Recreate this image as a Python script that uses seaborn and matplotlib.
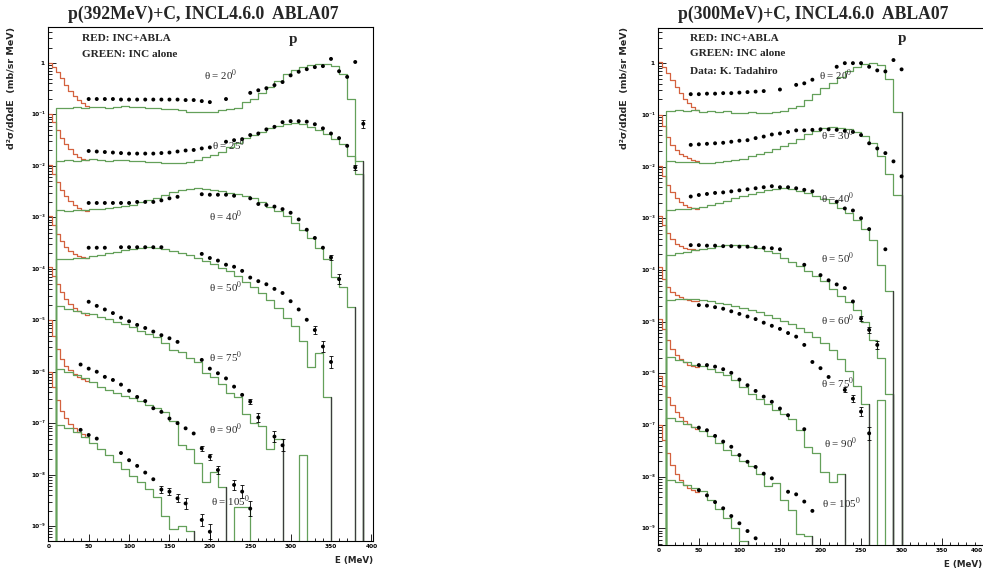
import numpy as np
import matplotlib
matplotlib.use("Agg")
import matplotlib.pyplot as plt
from matplotlib.ticker import FixedLocator, FuncFormatter, LogLocator, NullFormatter, MultipleLocator
import seaborn as sns

# ---------------------------------------------------------------------------
# Proton double-differential spectra, log10 of d2sigma/dOmega dE (mb/sr MeV),
# each angle shifted down by one more decade for display.
# Green: INC alone, 10 MeV bins from 0 to 400 MeV (None = empty bin).
# Red:   INC+ABLA, 5 MeV bins from 0 to 50 MeV (evaporation part).
# ---------------------------------------------------------------------------
GREEN_EDGES = np.arange(0, 410, 10)
RED_EDGES = np.arange(0, 55, 5)

# ----- p(392 MeV) + C -------------------------------------------------------
angles392 = [20, 25, 40, 50, 75, 90, 105]

r392_20 = [0.00, -0.08, -0.18, -0.30, -0.42, -0.54, -0.64, -0.72, -0.78, -0.83]
r392_25 = [-1.00, -1.15, -1.30, -1.45, -1.58, -1.68, -1.76, -1.82, -1.86, -1.88]
r392_40 = [-1.98, -2.15, -2.32, -2.47, -2.58, -2.68, -2.76, -2.81, -2.85, -2.87]
r392_50 = [-2.97, -3.15, -3.32, -3.46, -3.57, -3.65, -3.71, -3.75, -3.77, -3.78]
r392_75 = [-3.97, -4.13, -4.30, -4.46, -4.58, -4.68, -4.76, -4.82, -4.86, -4.89]
r392_90 = [-5.00, -5.30, -5.55, -5.75, -5.88, -5.97, -6.05, -6.10, -6.15, -6.18]
r392_105 = [-6.00, -6.29, -6.55, -6.76, -6.90, -7.02, -7.10, -7.17, -7.22, -7.27]

g392_20 = [None, -0.88, -0.87, -0.86, -0.88, -0.86, -0.85, -0.87, -0.85, -0.84,
           -0.86, -0.85, -0.88, -0.87, -0.89, -0.90, -0.92, -0.95, -0.96, -0.95,
           -0.95, -0.91, -0.90, -0.88, -0.76, -0.70, -0.58, -0.47, -0.35, -0.22,
           -0.13, -0.07, -0.03, -0.01, -0.01, -0.05, -0.22, -0.70, -1.90, None]
g392_25 = [None, -1.90, -1.88, -1.90, -1.89, -1.87, -1.88, -1.90, -1.89, -1.88,
           -1.91, -1.90, -1.93, -1.92, -1.94, -1.95, -1.95, -1.93, -1.88, -1.82,
           -1.78, -1.72, -1.63, -1.55, -1.45, -1.39, -1.34, -1.26, -1.22, -1.18,
           -1.17, -1.18, -1.24, -1.30, -1.37, -1.47, -1.58, -1.80, -2.15, None]
g392_40 = [None, -2.86, -2.87, -2.85, -2.86, -2.84, -2.83, -2.82, -2.80, -2.78,
           -2.75, -2.71, -2.67, -2.62, -2.56, -2.50, -2.46, -2.44, -2.43, -2.44,
           -2.47, -2.49, -2.52, -2.55, -2.58, -2.63, -2.70, -2.79, -2.88, -2.98,
           -3.10, -3.24, -3.40, -3.60, -3.80, -4.15, -4.35, -4.75, None, None]
g392_50 = [None, -3.81, -3.80, -3.79, -3.78, -3.75, -3.73, -3.70, -3.67, -3.64,
           -3.61, -3.59, -3.58, -3.59, -3.61, -3.65, -3.69, -3.74, -3.79, -3.85,
           -3.91, -3.98, -4.05, -4.14, -4.25, -4.36, -4.47, -4.60, -4.76, -4.95,
           -5.12, -5.40, -5.90, -5.64, -6.50, None, None, None, None, None]
g392_75 = [None, -4.72, -4.78, -4.82, -4.85, -4.88, -4.93, -4.98, -5.03, -5.08,
           -5.14, -5.20, -5.26, -5.33, -5.45, -5.58, -5.62, -5.74, -5.82, -6.02,
           -6.10, -6.24, -6.42, -6.50, -6.82, -7.00, -7.05, -7.50, -7.30, None,
           None, -7.62, None, None, None, None, None, None, None, None]
g392_90 = [None, -5.94, -6.00, -6.06, -6.12, -6.20, -6.30, -6.36, -6.42, -6.47,
           -6.52, -6.57, -6.64, -6.70, -6.78, -6.95, -7.43, -7.50, -7.78, -8.14,
           -7.95, -8.25, None, -8.63, -8.63, None, None, None, None, None,
           None, None, None, None, None, None, None, None, None, None]
g392_105 = [None, -7.04, -7.10, -7.18, -7.27, -7.38, -7.50, -7.62, -7.76, -7.90,
            -8.02, -8.15, -8.28, -8.43, -8.80, -9.05, -9.00, -9.10, None, None,
            None, None, None, None, None, None, None, None, None, None,
            None, None, None, None, None, None, None, None, None, None]

# measured points: energy (MeV) and log10 value
d392_20_E = [50, 60, 70, 80, 90, 100, 110, 120, 130, 140, 150, 160, 170, 180, 190, 200,
             220, 250, 260, 270, 280, 290, 300, 310, 320, 330, 340, 350, 360, 370, 380, 390]
d392_20_L = [-0.70, -0.70, -0.70, -0.70, -0.71, -0.71, -0.71, -0.71, -0.71, -0.71, -0.71,
             -0.71, -0.72, -0.72, -0.74, -0.76, -0.70, -0.58, -0.53, -0.49, -0.43, -0.37,
             -0.24, -0.17, -0.12, -0.08, -0.06, 0.08, -0.16, -0.27, 0.02, -1.18]
d392_25_E = [50, 60, 70, 80, 90, 100, 110, 120, 130, 140, 150, 160, 170, 180, 190, 200,
             220, 230, 240, 250, 260, 270, 280, 290, 300, 310, 320, 330, 340, 350, 360, 370, 380]
d392_25_L = [-1.71, -1.72, -1.73, -1.74, -1.75, -1.76, -1.76, -1.76, -1.76, -1.75, -1.74,
             -1.72, -1.70, -1.69, -1.66, -1.64, -1.53, -1.50, -1.48, -1.40, -1.37, -1.29,
             -1.24, -1.15, -1.13, -1.13, -1.14, -1.19, -1.27, -1.37, -1.46, -1.61, -2.03]
d392_40_E = [50, 60, 70, 80, 90, 100, 110, 120, 130, 140, 150, 160, 190, 200, 210, 220, 230,
             250, 260, 270, 280, 290, 300, 310, 320, 330, 340, 350, 360]
d392_40_L = [-2.72, -2.72, -2.72, -2.72, -2.72, -2.72, -2.70, -2.70, -2.70, -2.67, -2.63,
             -2.60, -2.55, -2.56, -2.56, -2.56, -2.58, -2.63, -2.74, -2.76, -2.79, -2.84,
             -2.91, -3.04, -3.24, -3.40, -3.59, -3.78, -4.20]
d392_50_E = [50, 60, 70, 90, 100, 110, 120, 130, 140, 190, 200, 210, 220, 230, 240, 250,
             260, 270, 280, 290, 300, 310, 320, 330, 340, 350]
d392_50_L = [-3.59, -3.59, -3.59, -3.58, -3.58, -3.58, -3.58, -3.58, -3.58, -3.71, -3.79,
             -3.84, -3.92, -3.96, -4.04, -4.17, -4.24, -4.30, -4.39, -4.47, -4.63, -4.79,
             -4.99, -5.19, -5.51, -5.81]
d392_75_E = [50, 60, 70, 80, 90, 100, 110, 120, 130, 140, 150, 160, 190, 200, 210, 220,
             230, 240, 250, 260, 280, 290]
d392_75_L = [-4.64, -4.72, -4.79, -4.86, -4.95, -5.02, -5.09, -5.15, -5.22, -5.29, -5.35,
             -5.42, -5.77, -5.94, -6.03, -6.13, -6.29, -6.45, -6.58, -6.89, -7.26, -7.43]
d392_90_E = [40, 50, 60, 70, 80, 90, 100, 110, 120, 130, 140, 150, 160, 170, 180, 190,
             200, 210, 230, 240, 250]
d392_90_L = [-5.86, -5.94, -6.00, -6.10, -6.16, -6.25, -6.37, -6.49, -6.57, -6.71, -6.78,
             -6.91, -7.00, -7.10, -7.20, -7.49, -7.65, -7.91, -8.20, -8.33, -8.66]
d392_105_E = [40, 50, 60, 90, 100, 110, 120, 130, 140, 150, 160, 170, 190, 200]
d392_105_L = [-7.13, -7.23, -7.30, -7.58, -7.72, -7.83, -7.96, -8.09, -8.29, -8.33,
              -8.46, -8.56, -8.88, -9.11]

# statistical errors (half-width in decades) keyed by energy
err392_20 = {390: 0.08}
err392_25 = {380: 0.05}
err392_40 = {350: 0.05, 360: 0.10}
err392_50 = {330: 0.08, 340: 0.10, 350: 0.12}
err392_75 = {250: 0.05, 260: 0.08, 280: 0.10, 290: 0.12}
err392_90 = {190: 0.05, 200: 0.06, 210: 0.08, 230: 0.10, 240: 0.12, 250: 0.15}
err392_105 = {140: 0.06, 150: 0.07, 160: 0.08, 170: 0.10, 190: 0.12, 200: 0.15}

# ----- p(300 MeV) + C -------------------------------------------------------
angles300 = [20, 30, 40, 50, 60, 75, 90, 105]

r300_20 = [0.02, -0.08, -0.20, -0.33, -0.46, -0.58, -0.69, -0.78, -0.85, -0.90]
r300_30 = [-1.00, -1.22, -1.42, -1.58, -1.68, -1.75, -1.80, -1.84, -1.87, -1.89]
r300_40 = [-1.98, -2.18, -2.36, -2.50, -2.61, -2.69, -2.75, -2.79, -2.81, -2.83]
r300_50 = [-2.95, -3.14, -3.28, -3.40, -3.49, -3.54, -3.57, -3.59, -3.60, -3.61]
r300_60 = [-3.95, -4.18, -4.33, -4.43, -4.49, -4.53, -4.56, -4.58, -4.60, -4.61]
r300_75 = [-4.95, -5.15, -5.35, -5.52, -5.64, -5.73, -5.79, -5.83, -5.86, -5.88]
r300_90 = [-6.05, -6.25, -6.45, -6.62, -6.75, -6.85, -6.92, -6.98, -7.03, -7.07]
r300_105 = [-7.00, -7.28, -7.55, -7.78, -7.95, -8.07, -8.16, -8.22, -8.26, -8.30]

g300_20 = [None, -0.92, -0.90, -0.93, -0.91, -0.94, -0.92, -0.95, -0.93, -0.96,
           -0.97, -0.95, -0.97, -0.96, -0.95, -0.93, -0.87, -0.82, -0.72, -0.60,
           -0.48, -0.38, -0.26, -0.15, -0.07, -0.02, 0.01, -0.03, -0.30, -0.95,
           None, None, None, None, None, None, None, None, None, None]
g300_30 = [None, -1.90, -1.91, -1.92, -1.91, -1.93, -1.94, -1.92, -1.89, -1.87,
           -1.85, -1.80, -1.75, -1.71, -1.66, -1.60, -1.54, -1.46, -1.37, -1.31,
           -1.26, -1.24, -1.25, -1.28, -1.33, -1.41, -1.55, -1.80, -2.15, -2.55,
           None, None, None, None, None, None, None, None, None, None]
g300_40 = [None, -2.84, -2.83, -2.82, -2.81, -2.79, -2.75, -2.71, -2.66, -2.61,
           -2.57, -2.53, -2.49, -2.45, -2.43, -2.42, -2.44, -2.47, -2.52, -2.57,
           -2.63, -2.71, -2.80, -2.90, -3.04, -3.20, -3.42, -3.90, -4.40, None,
           None, None, None, None, None, None, None, None, None, None]
g300_50 = [None, -3.71, -3.68, -3.65, -3.62, -3.59, -3.57, -3.54, -3.52, -3.52,
           -3.52, -3.55, -3.58, -3.63, -3.68, -3.76, -3.84, -3.93, -4.02, -4.12,
           -4.22, -4.36, -4.50, -4.62, -4.78, -5.00, -5.36, -5.70, -6.40, None,
           None, None, None, None, None, None, None, None, None, None]
g300_60 = [None, -4.58, -4.57, -4.56, -4.57, -4.58, -4.60, -4.63, -4.66, -4.70,
           -4.74, -4.78, -4.82, -4.87, -4.92, -4.98, -5.05, -5.12, -5.20, -5.30,
           -5.42, -5.55, -5.72, -5.95, -6.25, -6.60, None, -6.52, None, None,
           None, None, None, None, None, None, None, None, None, None]
g300_75 = [None, -5.68, -5.74, -5.79, -5.83, -5.86, -5.92, -5.97, -6.03, -6.12,
           -6.26, -6.39, -6.50, -6.60, -6.70, -6.78, -6.88, -7.10, -7.42, -7.55,
           -7.90, -8.10, -7.95, None, None, None, None, None, None, None,
           None, None, None, None, None, None, None, None, None, None]
g300_90 = [None, -6.87, -6.92, -6.97, -7.04, -7.12, -7.22, -7.35, -7.48, -7.58,
           -7.70, -7.80, -7.94, -8.18, -8.13, -8.45, -8.65, -9.10, -9.15, None,
           None, None, None, None, None, None, None, None, None, None,
           None, None, None, None, None, None, None, None, None, None]
g300_105 = [None, -8.07, -8.10, -8.16, -8.22, -8.28, -8.45, -8.62, -8.80, -8.99,
            -9.25, None, None, None, None, None, None, None, None, None,
            None, None, None, None, None, None, None, None, None, None,
            None, None, None, None, None, None, None, None, None, None]

d300_20_E = [40, 50, 60, 70, 80, 90, 100, 110, 120, 130, 150, 170, 180, 190, 220, 230,
             240, 250, 260, 270, 280, 290, 300]
d300_20_L = [-0.60, -0.60, -0.59, -0.59, -0.58, -0.58, -0.57, -0.56, -0.55, -0.54, -0.51,
             -0.42, -0.39, -0.32, -0.07, 0.00, 0.00, 0.00, -0.07, -0.14, -0.16, 0.06, -0.12]
d300_30_E = [40, 50, 60, 70, 80, 90, 100, 110, 120, 130, 140, 150, 160, 170, 180, 190,
             200, 210, 220, 230, 240, 250, 260, 270, 280, 290, 300]
d300_30_L = [-1.58, -1.57, -1.56, -1.55, -1.54, -1.52, -1.50, -1.49, -1.45, -1.42, -1.38,
             -1.36, -1.33, -1.30, -1.30, -1.29, -1.28, -1.28, -1.29, -1.31, -1.33, -1.39,
             -1.55, -1.65, -1.74, -1.90, -2.19]
d300_40_E = [40, 50, 60, 70, 80, 90, 100, 110, 120, 130, 140, 150, 160, 170, 180, 190,
             220, 230, 240, 250, 260, 280]
d300_40_L = [-2.58, -2.55, -2.53, -2.51, -2.50, -2.48, -2.46, -2.44, -2.42, -2.40, -2.38,
             -2.40, -2.40, -2.42, -2.45, -2.48, -2.68, -2.81, -2.85, -3.00, -3.21, -3.60]
d300_50_E = [40, 50, 60, 70, 80, 90, 100, 110, 120, 130, 140, 150, 180, 200, 210, 220,
             230, 240, 250, 260, 270]
d300_50_L = [-3.52, -3.52, -3.53, -3.53, -3.54, -3.54, -3.55, -3.55, -3.56, -3.57, -3.58,
             -3.60, -3.90, -4.10, -4.20, -4.28, -4.35, -4.61, -4.94, -5.16, -5.45]
d300_60_E = [50, 60, 70, 80, 90, 100, 110, 120, 130, 140, 150, 160, 170, 180, 190, 200,
             210, 230, 240, 250, 260]
d300_60_L = [-4.68, -4.69, -4.72, -4.75, -4.80, -4.85, -4.90, -4.95, -5.02, -5.08, -5.14,
             -5.22, -5.29, -5.45, -5.78, -5.90, -6.07, -6.32, -6.49, -6.74, -7.16]
d300_75_E = [50, 60, 70, 80, 90, 100, 110, 120, 130, 140, 150, 160, 180]
d300_75_L = [-5.84, -5.84, -5.87, -5.92, -5.99, -6.12, -6.23, -6.34, -6.45, -6.55,
             -6.68, -6.81, -7.08]
d300_90_E = [50, 60, 70, 80, 90, 100, 110, 120, 130, 140, 160, 170, 180, 190]
d300_90_L = [-7.05, -7.10, -7.21, -7.32, -7.42, -7.58, -7.71, -7.81, -7.94, -8.03,
             -8.29, -8.34, -8.48, -8.66]
d300_105_E = [50, 60, 70, 80, 90, 100, 110, 120]
d300_105_L = [-8.26, -8.36, -8.49, -8.61, -8.76, -8.90, -9.05, -9.19]

err300_20 = {}
err300_30 = {}
err300_40 = {}
err300_50 = {250: 0.05, 260: 0.06, 270: 0.08}
err300_60 = {230: 0.05, 240: 0.07, 250: 0.08, 260: 0.12}
err300_75 = {}
err300_90 = {}
err300_105 = {}

# ---------------------------------------------------------------------------
# Styling
# ---------------------------------------------------------------------------
sns.set_theme(style="ticks")
plt.rcParams["font.family"] = ["Liberation Serif", "DejaVu Serif"]
plt.rcParams["mathtext.fontset"] = "stix"

RED = "#d4623f"
GREEN = "#64a05a"
DARK = "#3c3c3c"
FLOOR = 1e-12
SUP = str.maketrans("-0123456789", "⁻⁰¹²³⁴⁵⁶⁷⁸⁹")
TICK_FONT = dict(family=["DejaVu Sans"], weight="bold")


def step_values(logvals):
    ys = np.array([FLOOR if v is None else 10.0 ** v for v in logvals])
    return np.append(ys, ys[-1])


def draw_green(ax, logvals):
    sns.lineplot(x=GREEN_EDGES, y=step_values(logvals), ax=ax, drawstyle="steps-post",
                 color=GREEN, lw=0.9, estimator=None, sort=False, zorder=3, legend=False)
    # end of the main continuous part drops to zero
    filled = [i for i, v in enumerate(logvals) if v is not None]
    k = filled[0]
    while k + 1 < len(logvals) and logvals[k + 1] is not None:
        k += 1
    e_end = GREEN_EDGES[k + 1]
    sns.lineplot(x=[e_end, e_end], y=[10.0 ** logvals[k], FLOOR], ax=ax, color=DARK,
                 lw=0.9, estimator=None, sort=False, zorder=3.5, legend=False)


def draw_red(ax, logvals):
    sns.lineplot(x=RED_EDGES, y=step_values(logvals), ax=ax, drawstyle="steps-post",
                 color=RED, lw=0.9, estimator=None, sort=False, zorder=2, legend=False)


def draw_points(ax, E, L, errs):
    E = np.asarray(E, float)
    L = np.asarray(L, float)
    sns.scatterplot(x=E, y=10.0 ** L, ax=ax, color="black", s=8, edgecolor="none",
                    zorder=5, legend=False)
    for e, half in errs.items():
        if e in list(E):
            v = L[list(E).index(e)]
            y = 10.0 ** v
            ax.errorbar([e], [y], yerr=[[y - 10.0 ** (v - half)], [10.0 ** (v + half) - y]],
                        fmt="none", ecolor="black", elinewidth=0.6, capsize=1.2,
                        capthick=0.6, zorder=5)


def ylab(v, pos):
    e = int(round(np.log10(v)))
    return "1" if e == 0 else "10" + str(e).translate(SUP)


def style_axes(ax, ylo, yhi):
    ax.set_yscale("log")
    ax.set_xlim(0, 402)
    ax.set_ylim(10.0 ** ylo, 10.0 ** yhi)
    ax.set_xlabel("")
    ax.set_ylabel("")
    ax.xaxis.set_major_locator(MultipleLocator(50))
    ax.xaxis.set_minor_locator(MultipleLocator(10))
    ax.yaxis.set_major_locator(FixedLocator([10.0 ** k for k in range(-9, 1)]))
    ax.yaxis.set_minor_locator(LogLocator(base=10, subs=np.arange(2, 10) * 1.0, numticks=30))
    ax.yaxis.set_major_formatter(FuncFormatter(ylab))
    ax.yaxis.set_minor_formatter(NullFormatter())
    ax.tick_params(axis="both", which="both", direction="in", top=False, right=False,
                   width=0.6, colors="black", labelsize=4.2, pad=2.5)
    ax.tick_params(axis="y", which="major", length=6)
    ax.tick_params(axis="y", which="minor", length=3)
    ax.tick_params(axis="x", which="major", length=5)
    ax.tick_params(axis="x", which="minor", length=2.5)
    for lab in ax.get_xticklabels() + ax.get_yticklabels():
        lab.set_fontfamily(TICK_FONT["family"])
        lab.set_fontweight(TICK_FONT["weight"])
    for sp in ax.spines.values():
        sp.set_color("black")
        sp.set_linewidth(0.8)
    ax.grid(False)


def theta_label(ax, angle, x, y):
    ax.text(x, 10.0 ** y, "θ = %d$^{0}$" % angle, fontsize=7.8, ha="center", va="center",
            zorder=6)


W, H = 983, 572
fig = plt.figure(figsize=(W / 100, H / 100), dpi=100)
fig.patch.set_facecolor("white")

ax1 = fig.add_axes([48.3 / W, 1 - 541 / H, 324.7 / W, 514 / H])
ax2 = fig.add_axes([658.3 / W, 1 - 545 / H, 326.0 / W, 517 / H])

# ----- left panel -----
reds392 = [r392_20, r392_25, r392_40, r392_50, r392_75, r392_90, r392_105]
greens392 = [g392_20, g392_25, g392_40, g392_50, g392_75, g392_90, g392_105]
pts392 = [(d392_20_E, d392_20_L, err392_20), (d392_25_E, d392_25_L, err392_25),
          (d392_40_E, d392_40_L, err392_40), (d392_50_E, d392_50_L, err392_50),
          (d392_75_E, d392_75_L, err392_75), (d392_90_E, d392_90_L, err392_90),
          (d392_105_E, d392_105_L, err392_105)]
lab392 = [(213, -0.25), (223, -1.61), (220, -2.99), (220, -4.37), (220, -5.72),
          (220, -7.13), (225, -8.53)]

for r, g in zip(reds392, greens392):
    draw_red(ax1, r)
    draw_green(ax1, g)
for E, L, er in pts392:
    draw_points(ax1, E, L, er)
style_axes(ax1, -9.29, 0.70)
for a, (x, y) in zip(angles392, lab392):
    theta_label(ax1, a, x, y)

# ----- right panel -----
reds300 = [r300_20, r300_30, r300_40, r300_50, r300_60, r300_75, r300_90, r300_105]
greens300 = [g300_20, g300_30, g300_40, g300_50, g300_60, g300_75, g300_90, g300_105]
pts300 = [(d300_20_E, d300_20_L, err300_20), (d300_30_E, d300_30_L, err300_30),
          (d300_40_E, d300_40_L, err300_40), (d300_50_E, d300_50_L, err300_50),
          (d300_60_E, d300_60_L, err300_60), (d300_75_E, d300_75_L, err300_75),
          (d300_90_E, d300_90_L, err300_90), (d300_105_E, d300_105_L, err300_105)]
lab300 = [(219, -0.23), (221, -1.39), (221, -2.61), (221, -3.77), (221, -4.97),
          (221, -6.19), (225, -7.35), (226, -8.51)]

for r, g in zip(reds300, greens300):
    draw_red(ax2, r)
    draw_green(ax2, g)
for E, L, er in pts300:
    draw_points(ax2, E, L, er)
style_axes(ax2, -9.32, 0.68)
for a, (x, y) in zip(angles300, lab300):
    theta_label(ax2, a, x, y)

# ----- panel annotations -----
head = dict(fontsize=8.1, fontweight="bold", ha="left", va="center")
ax1.text(42, 10 ** 0.47, "RED: INC+ABLA", **head)
ax1.text(42, 10 ** 0.175, "GREEN: INC alone", **head)
ax1.text(303, 10 ** 0.45, "p", fontsize=11, fontweight="bold", ha="center", va="center")

ax2.text(39, 10 ** 0.47, "RED: INC+ABLA", **head)
ax2.text(39, 10 ** 0.18, "GREEN: INC alone", **head)
ax2.text(39, 10 ** -0.17, "Data: K. Tadahiro", **head)
ax2.text(300, 10 ** 0.47, "p", fontsize=11, fontweight="bold", ha="center", va="center")

title_kw = dict(fontsize=12.7, fontweight="bold", ha="center", va="center")
fig.text(203.5 / W, 1 - 14 / H, "p(392MeV)+C, INCL4.6.0  ABLA07", **title_kw)
fig.text(813 / W, 1 - 14 / H, "p(300MeV)+C, INCL4.6.0  ABLA07", **title_kw)

ylab_kw = dict(fontsize=6.8, fontweight="bold", family=["DejaVu Sans"], rotation=90,
               ha="center", va="top")
fig.text(12 / W, 1 - 27 / H, "d²σ/dΩdE  (mb/sr MeV)", **ylab_kw)
fig.text(625 / W, 1 - 27 / H, "d²σ/dΩdE  (mb/sr MeV)", **ylab_kw)

xlab_kw = dict(fontsize=6.3, fontweight="bold", family=["DejaVu Sans"], ha="right",
               va="center")
fig.text(373 / W, 1 - 560 / H, "E (MeV)", **xlab_kw)
fig.text(982 / W, 1 - 565 / H, "E (MeV)", **xlab_kw)

# the "400" tick of the right panel sits on the figure edge; anchor it inside
fig.canvas.draw()
for tick in ax2.xaxis.get_major_ticks():
    if tick.label1.get_text() == "400":
        tick.label1.set_horizontalalignment("right")

fig.savefig("out.png", dpi=100, facecolor="white")
